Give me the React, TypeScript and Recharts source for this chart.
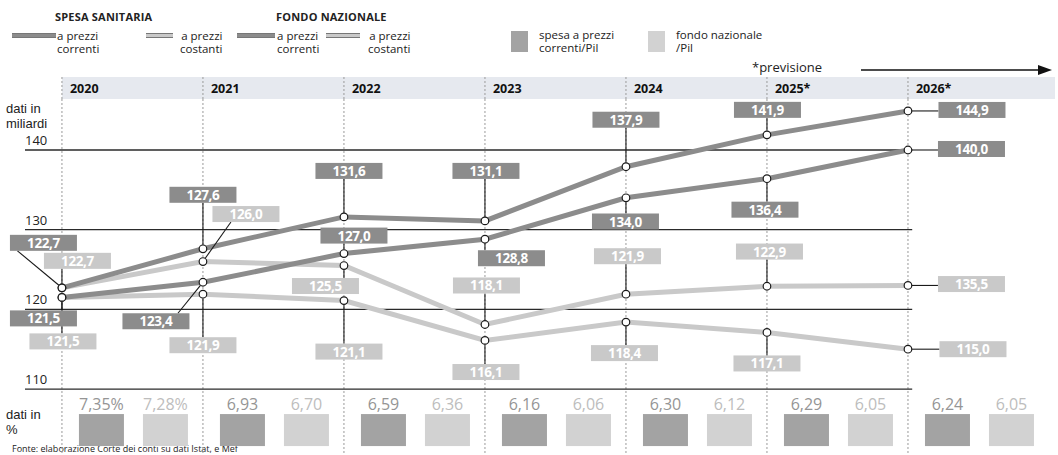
import React from "react";
import { ComposedChart, Line, XAxis, YAxis, ReferenceLine, LabelList } from "recharts";

const YEARS = [2020, 2021, 2022, 2023, 2024, 2025, 2026];
const YEAR_LABELS = ["2020", "2021", "2022", "2023", "2024", "2025*", "2026*"];

// miliardi di euro
const SPESA_CORRENTI = [122.7, 127.6, 131.6, 131.1, 137.9, 141.9, 144.9];
const SPESA_COSTANTI = [122.7, 126.0, 125.5, 118.1, 121.9, 122.9, 123.0];
const FONDO_CORRENTI = [121.5, 123.4, 127.0, 128.8, 134.0, 136.4, 140.0];
const FONDO_COSTANTI = [121.5, 121.9, 121.1, 116.1, 118.4, 117.1, 115.0];

// in % del Pil
const PIL_SPESA = [7.35, 6.93, 6.59, 6.16, 6.3, 6.29, 6.24];
const PIL_FONDO = [7.28, 6.7, 6.36, 6.06, 6.12, 6.05, 6.05];

const GRID_VALUES = [140, 130, 120, 110];

// the printed label for 2026 differs from the plotted point in the original
const LABEL_OVERRIDE: Record<string, Record<number, string>> = { sk: { 6: "135,5" } };

const rows = YEARS.map((year, i) => ({
  year,
  sc: SPESA_CORRENTI[i],
  sk: SPESA_COSTANTI[i],
  fc: FONDO_CORRENTI[i],
  fk: FONDO_COSTANTI[i],
}));

// layout
const W = 1058;
const H = 455;
const LEFT = 25;
const BAND_TOP = 77;
const BAND_H = 22;
const X_MIN = 2019.738;
const X_MAX = 2027.064;
const Y_MIN = 101.72;
const Y_MAX = 146.4;
const PX_PER_YEAR = (W - LEFT) / (X_MAX - X_MIN);
const BAND_RIGHT = 1055;
const GRID_END = 2026.03;
const PCT_ROW = 104.85;

const DARK = "#8c8c8c";
const LIGHT = "#c9c9c9";
const FONT = "'Open Sans', sans-serif";

type Conn = "v" | "h" | [number, number];
// box centre offset from the point, and how the leader line runs
const LABEL_LAYOUT: Record<string, [number, number, Conn][]> = {
  sc: [[-18.5, -45, [-26, 8]], [0, -54, "v"], [5, -46, "v"], [1, -50, "v"], [0, -47, "v"], [0.5, -25, "v"], [64, -1, "h"]],
  sk: [[15.5, -27, "v"], [43, -47.5, [-15, 8]], [-18.5, 20.5, "v"], [1.5, -39, "v"], [1.5, -38, "v"], [2.5, -34.7, "v"], [63.5, -1.4, "h"]],
  fc: [[-18.5, 21, "v"], [-47, 39, [22, -8]], [10, -18, "v"], [26.5, 19, "v"], [-0.5, 23.7, "v"], [-2, 31, "v"], [63.5, -1, "h"]],
  fk: [[1, 44, "v"], [0, 51, "v"], [5, 51, "v"], [1, 31.6, "v"], [-1.5, 31, "v"], [0, 31, "v"], [65, 0, "h"]],
};

const fmt = (v: number) => v.toFixed(1).replace(".", ",");
const fmt2 = (v: number) => v.toFixed(2).replace(".", ",");

const BOX_W = 67;
const BOX_H = 16;

const makeLabel = (key: string, fill: string) => (p: any) => {
  const { x, y, index, value } = p;
  if (x == null || y == null) return null;
  const [dx, dy, conn] = LABEL_LAYOUT[key][index];
  const bx = x + dx;
  const by = y + dy;
  const text = LABEL_OVERRIDE[key]?.[index] ?? fmt(Number(value));
  let line: React.ReactNode = null;
  if (conn === "v") {
    const y1 = dy < 0 ? y - 4 : y + 4;
    const y2 = dy < 0 ? by + BOX_H / 2 : by - BOX_H / 2;
    line = <line x1={x} x2={x} y1={y1} y2={y2} stroke="#1a1a1a" strokeWidth={1.1} />;
  } else if (conn === "h") {
    line = <line x1={x + 4} x2={bx - BOX_W / 2} y1={y} y2={y} stroke="#1a1a1a" strokeWidth={1.1} />;
  } else {
    const ex = bx + conn[0];
    const ey = by + conn[1];
    const len = Math.hypot(ex - x, ey - y) || 1;
    line = (
      <line x1={x + ((ex - x) / len) * 4} y1={y + ((ey - y) / len) * 4} x2={ex} y2={ey} stroke="#1a1a1a" strokeWidth={1.1} />
    );
  }
  return (
    <g>
      {line}
      <rect x={bx - BOX_W / 2} y={by - BOX_H / 2} width={BOX_W} height={BOX_H} fill={fill} />
      <text x={bx} y={by + 5} textAnchor="middle" fill="#fff" fontSize={13.5} fontWeight={700} fontFamily={FONT} letterSpacing={-0.4}>
        {text}
      </text>
    </g>
  );
};

const renderDot = (p: any) => {
  const { cx, cy, index } = p;
  if (cx == null || cy == null) return <g key={index} />;
  return <circle key={index} cx={cx} cy={cy} r={3.8} fill="#fff" stroke="#1a1a1a" strokeWidth={1.2} />;
};

const renderPct = (p: any) => {
  const { cx, cy, index } = p;
  if (cx == null || cy == null) return <g key={index} />;
  const suffix = index === 0 ? "%" : "";
  return (
    <g key={index}>
      <rect x={cx + 17} y={cy - 16} width={45} height={32} fill="#a3a3a3" />
      <rect x={cx + 81} y={cy - 16} width={45} height={32} fill="#d2d2d2" />
      <text x={cx + 39.5} y={cy - 20} textAnchor="middle" fontSize={16} fontWeight={500} fill="#959595" fontFamily={FONT}>
        {fmt2(PIL_SPESA[index]) + suffix}
      </text>
      <text x={cx + 103.5} y={cy - 20} textAnchor="middle" fontSize={16} fontWeight={500} fill="#bdbdbd" fontFamily={FONT}>
        {fmt2(PIL_FONDO[index]) + suffix}
      </text>
    </g>
  );
};

const renderYearTick = (p: any) => {
  const { x, index } = p;
  const w = index === YEARS.length - 1 ? BAND_RIGHT - x : PX_PER_YEAR;
  return (
    <g>
      <rect x={x} y={BAND_TOP} width={w} height={BAND_H} fill="#e6e9ef" />
      <line x1={x} x2={x} y1={BAND_TOP} y2={BAND_TOP + BAND_H} stroke="#9a9a9a" strokeDasharray="2 2" />
      <text x={x + 8} y={BAND_TOP + 16} fontSize={12.5} fontWeight={700} fill="#111" fontFamily={FONT}>
        {YEAR_LABELS[index]}
      </text>
    </g>
  );
};

const GridLabel = (props: any) => {
  const vb = props.viewBox || {};
  return (
    <text x={vb.x} y={vb.y - 5} fontSize={13} fill="#222" fontFamily={FONT}>
      {props.value}
    </text>
  );
};

const swatch = (left: number, top: number, width: number, color: string) => (
  <div style={{ position: "absolute", left, top, width, height: 5, background: color, borderTop: "1px solid #777", borderBottom: "1px solid #777", boxSizing: "border-box" }} />
);

const txt: React.CSSProperties = { position: "absolute", fontFamily: FONT, fontSize: 12, lineHeight: "13px", color: "#222", whiteSpace: "nowrap" };
const side: React.CSSProperties = { ...txt, fontFamily: "'Liberation Sans', sans-serif", fontSize: 13, lineHeight: "15px" };

export default function App() {
  return (
    <div style={{ position: "relative", width: W, height: H, overflow: "hidden", background: "#fff" }}>
      <style>{"body{margin:0}"}</style>

      <div style={{ ...txt, left: 55, top: 10, fontWeight: 700, fontSize: 11, letterSpacing: 0.2 }}>SPESA SANITARIA</div>
      <div style={{ ...txt, left: 276, top: 10, fontWeight: 700, fontSize: 11, letterSpacing: 0.2 }}>FONDO NAZIONALE</div>
      {swatch(12, 33, 44, DARK)}
      <div style={{ ...txt, left: 57, top: 29, fontSize: 11.5 }}>a prezzi<br />correnti</div>
      {swatch(146, 33, 27, LIGHT)}
      <div style={{ ...txt, left: 174, top: 29, fontSize: 11.5, textAlign: "right" }}>a prezzi<br />&nbsp;&nbsp;costanti</div>
      {swatch(237, 33, 38, DARK)}
      <div style={{ ...txt, left: 277, top: 29, fontSize: 11.5 }}>a prezzi<br />correnti</div>
      {swatch(326, 33, 34, LIGHT)}
      <div style={{ ...txt, left: 362, top: 29, fontSize: 11.5, textAlign: "right" }}>a prezzi<br />&nbsp;&nbsp;costanti</div>
      <div style={{ position: "absolute", left: 511, top: 31, width: 17, height: 21, background: "#a3a3a3" }} />
      <div style={{ ...txt, left: 539, top: 28, fontSize: 11.5 }}>spesa a prezzi<br />correnti/Pil</div>
      <div style={{ position: "absolute", left: 648, top: 31, width: 17, height: 21, background: "#d2d2d2" }} />
      <div style={{ ...txt, left: 676, top: 28, fontSize: 11.5 }}>fondo nazionale<br />/Pil</div>
      <div style={{ ...txt, left: 752, top: 61, fontSize: 13 }}>*previsione</div>
      <svg style={{ position: "absolute", left: 0, top: 0 }} width={W} height={80}>
        <line x1={861} x2={1040} y1={70} y2={70} stroke="#111" strokeWidth={1.5} />
        <polygon points="1038,65 1052,70 1038,75" fill="#111" />
      </svg>
      <div style={{ ...side, left: 6, top: 101 }}>dati in</div>
      <div style={{ ...side, left: 6, top: 116 }}>miliardi</div>
      <div style={{ ...side, left: 6, top: 407 }}>dati in</div>
      <div style={{ ...side, left: 6, top: 422 }}>%</div>
      <div style={{ ...txt, left: 12, top: 443, fontSize: 9, lineHeight: "11px" }}>Fonte: elaborazione Corte dei conti su dati Istat, e Mef</div>

      <div style={{ position: "absolute", left: 0, top: 0 }}>
        <ComposedChart width={W} height={H} data={rows} margin={{ top: BAND_TOP, right: 0, bottom: 0, left: LEFT }}>
          <XAxis
            dataKey="year"
            type="number"
            domain={[X_MIN, X_MAX]}
            allowDataOverflow
            orientation="top"
            height={BAND_H}
            ticks={YEARS}
            interval={0}
            tick={renderYearTick}
            tickLine={false}
            axisLine={false}
          />
          <YAxis hide type="number" domain={[Y_MIN, Y_MAX]} allowDataOverflow />
          {YEARS.map((yr) => (
            <ReferenceLine key={yr} x={yr} stroke="#9a9a9a" strokeDasharray="2 2" />
          ))}
          {GRID_VALUES.map((v) => (
            <ReferenceLine
              key={v}
              segment={[{ x: X_MIN, y: v }, { x: GRID_END, y: v }]}
              stroke="#2a2a2a"
              strokeWidth={1.3}
              label={<GridLabel value={String(v)} />}
            />
          ))}
          <Line dataKey="fk" stroke={LIGHT} strokeWidth={5} dot={renderDot} activeDot={false} isAnimationActive={false}>
            <LabelList dataKey="fk" content={makeLabel("fk", LIGHT)} />
          </Line>
          <Line dataKey="sk" stroke={LIGHT} strokeWidth={5} dot={renderDot} activeDot={false} isAnimationActive={false}>
            <LabelList dataKey="sk" content={makeLabel("sk", LIGHT)} />
          </Line>
          <Line dataKey="fc" stroke={DARK} strokeWidth={5} dot={renderDot} activeDot={false} isAnimationActive={false}>
            <LabelList dataKey="fc" content={makeLabel("fc", DARK)} />
          </Line>
          <Line dataKey="sc" stroke={DARK} strokeWidth={5} dot={renderDot} activeDot={false} isAnimationActive={false}>
            <LabelList dataKey="sc" content={makeLabel("sc", DARK)} />
          </Line>
          <Line dataKey={() => PCT_ROW} stroke="none" dot={renderPct} activeDot={false} isAnimationActive={false} />
        </ComposedChart>
      </div>
    </div>
  );
}
